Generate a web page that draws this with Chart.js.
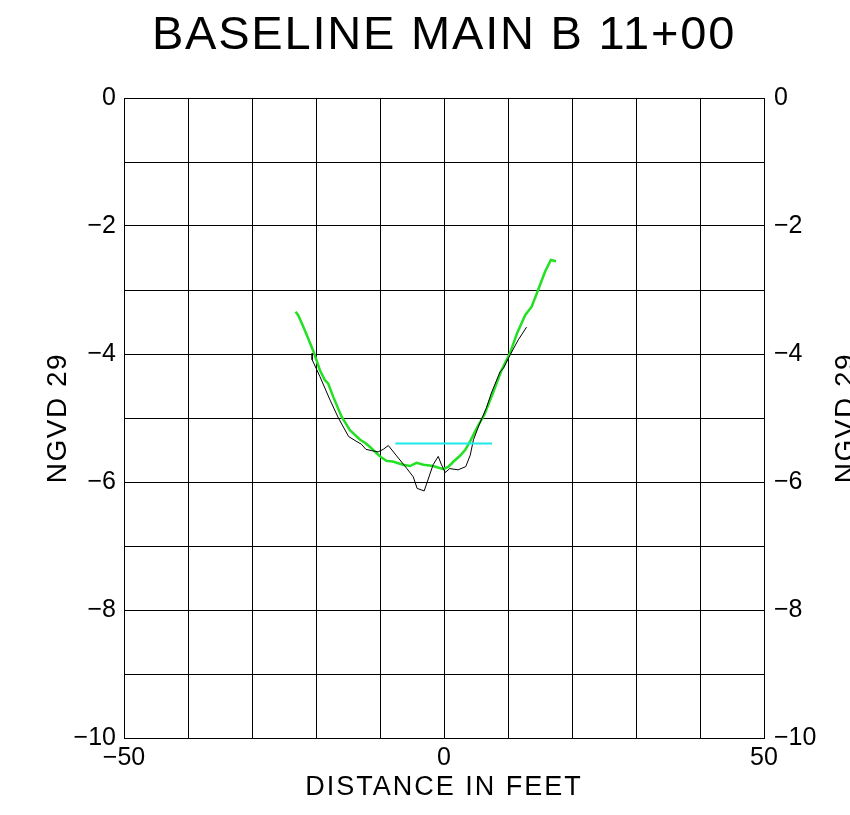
<!DOCTYPE html>
<html>
<head>
<meta charset="utf-8">
<script src="https://cdn.jsdelivr.net/npm/chart.js@4"></script>
<style>
  html, body { margin: 0; padding: 0; background: #fff; }
  #wrap { width: 850px; height: 815px; }
</style>
</head>
<body>
<div id="wrap"><canvas id="section-chart" width="850" height="815"></canvas></div>
<script>
// Profile values (distance in feet, elevation NGVD 29)
const greenX = [-23.2, -22.8, -22.0, -21.2, -20.4, -19.4, -18.6, -18.1, -17.3, -16.0, -14.7, -13.1, -12.3, -11.6, -10.0, -9.0, -8.0, -6.4, -5.3, -4.3, -3.2, -1.7, -0.1, 0.7, 1.5, 2.5, 3.3, 4.1, 5.1, 6.3, 7.6, 9.0, 10.3, 11.4, 12.7, 13.7, 14.7, 15.8, 16.7, 17.5];
const greenY = [-3.34, -3.39, -3.57, -3.76, -3.96, -4.25, -4.41, -4.46, -4.67, -4.98, -5.19, -5.34, -5.39, -5.45, -5.60, -5.67, -5.68, -5.73, -5.75, -5.70, -5.73, -5.75, -5.80, -5.76, -5.68, -5.59, -5.50, -5.36, -5.16, -4.95, -4.62, -4.25, -3.99, -3.68, -3.39, -3.26, -3.00, -2.71, -2.53, -2.55];

const blackX = [-20.6, -20.6, -19.4, -17.8, -16.5, -14.9, -13.6, -12.9, -12.2, -11.3, -10.3, -9.5, -8.7, -7.5, -5.8, -4.8, -4.2, -3.1, -1.7, -0.9, -0.4, 0.2, 0.9, 2.2, 3.4, 4.1, 4.6, 5.6, 6.6, 7.4, 8.75, 9.3, 10.3, 11.6, 12.9];
const blackY = [-3.99, -4.09, -4.35, -4.72, -5.00, -5.29, -5.37, -5.41, -5.49, -5.51, -5.53, -5.49, -5.43, -5.58, -5.79, -5.92, -6.10, -6.14, -5.73, -5.60, -5.73, -5.85, -5.79, -5.81, -5.76, -5.58, -5.34, -5.08, -4.85, -4.61, -4.28, -4.22, -4.02, -3.78, -3.58];

const cyanX = [-7.6, 7.5];
const cyanY = [-5.4, -5.4];

// Axis labels
const titleText = "BASELINE MAIN B 11+00";
const xTitle = "DISTANCE IN FEET";
const yTitle = "NGVD 29";
const xTickLabels = [-50, 0, 50];
const yTickLabels = [0, -2, -4, -6, -8, -10];

const FONT = "'Liberation Sans', Arial, sans-serif";

function toPoints(xs, ys) {
    return xs.map((x, i) => ({ x: x, y: ys[i] }));
}

function fmt(v) {
    return v < 0 ? "\u2212" + Math.abs(v) : String(v);
}

// Draw titles by hand so the right side label can be clipped like the original
const titlesPlugin = {
    id: "titles",
    afterDraw(chart) {
        const ctx = chart.ctx;
        const area = chart.chartArea;
        const midX = (area.left + area.right) / 2;
        const midY = (area.top + area.bottom) / 2;
        ctx.save();
        ctx.fillStyle = "#000";
        ctx.textAlign = "center";
        ctx.textBaseline = "middle";

        ctx.font = "47px " + FONT;
        ctx.letterSpacing = "1.8px";
        ctx.fillText(titleText, midX, 36);

        ctx.font = "27px " + FONT;
        ctx.letterSpacing = "2px";
        ctx.fillText(xTitle, midX, 788);

        ctx.font = "28px " + FONT;
        ctx.letterSpacing = "1.5px";
        ctx.save();
        ctx.translate(58, midY);
        ctx.rotate(-Math.PI / 2);
        ctx.fillText(yTitle, 0, 0);
        ctx.restore();

        ctx.save();
        ctx.translate(846, midY);
        ctx.rotate(-Math.PI / 2);
        ctx.fillText(yTitle, 0, 0);
        ctx.restore();
        ctx.restore();
    }
};

const yTicks = {
    stepSize: 1,
    color: "#000",
    font: { family: FONT, size: 25 },
    callback: v => yTickLabels.includes(v) ? fmt(v) : ""
};

new Chart("section-chart", {
    type: "scatter",
    data: {
        datasets: [
            {
                label: "cyan",
                data: toPoints(cyanX, cyanY),
                showLine: true,
                borderColor: "#1ee8e8",
                borderWidth: 2,
                pointRadius: 0,
                order: 1
            },
            {
                label: "black",
                data: toPoints(blackX, blackY),
                showLine: true,
                borderColor: "#000",
                borderWidth: 1,
                pointRadius: 0,
                order: 2
            },
            {
                label: "green",
                data: toPoints(greenX, greenY),
                showLine: true,
                borderColor: "#22e022",
                borderWidth: 2.5,
                pointRadius: 0,
                order: 3
            }
        ]
    },
    options: {
        responsive: false,
        animation: false,
        layout: { padding: { top: 98, left: 0, right: 0, bottom: 0 } },
        plugins: {
            legend: { display: false },
            tooltip: { enabled: false }
        },
        scales: {
            x: {
                type: "linear",
                min: -50,
                max: 50,
                grid: { color: "#000", lineWidth: 1, drawTicks: false },
                border: { color: "#000", width: 1 },
                ticks: {
                    stepSize: 10,
                    padding: 5,
                    color: "#000",
                    maxRotation: 0,
                    font: { family: FONT, size: 25 },
                    callback: v => xTickLabels.includes(v) ? fmt(v) : ""
                },
                afterFit: scale => { scale.height = 77; }
            },
            y: {
                position: "left",
                min: -10,
                max: 0,
                grid: { color: "#000", lineWidth: 1, drawTicks: false },
                border: { color: "#000", width: 1 },
                ticks: Object.assign({ padding: 8 }, yTicks),
                afterFit: scale => { scale.width = 124; }
            },
            y2: {
                position: "right",
                min: -10,
                max: 0,
                grid: { drawOnChartArea: false, drawTicks: false },
                border: { color: "#000", width: 1 },
                ticks: Object.assign({ padding: 10 }, yTicks),
                afterFit: scale => { scale.width = 86; }
            }
        }
    },
    plugins: [titlesPlugin]
});
</script>
</body>
</html>
